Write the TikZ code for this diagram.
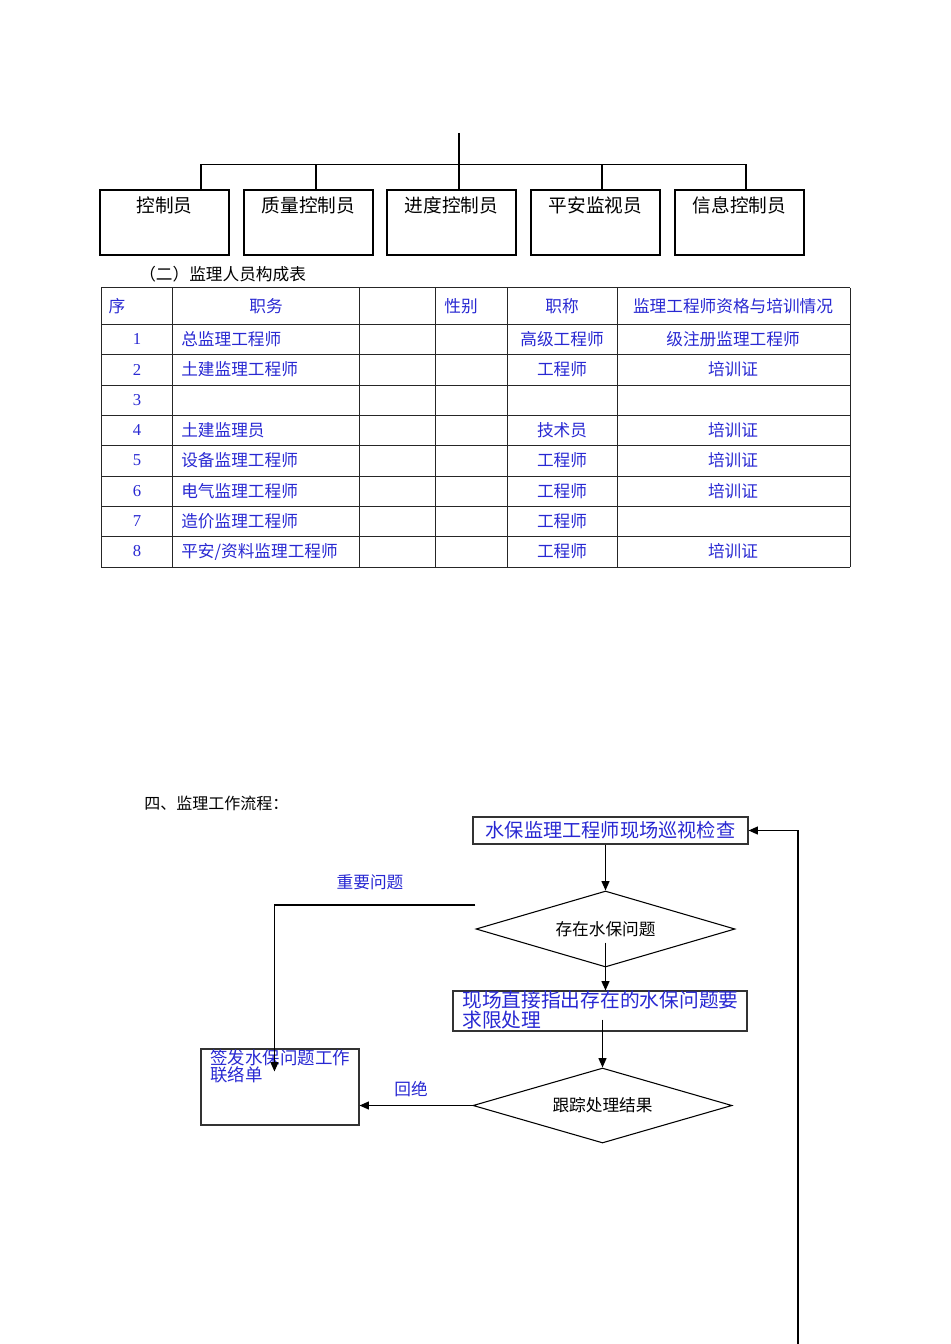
\documentclass[tikz,border=0pt]{standalone}
\usepackage{fontspec}
\setmainfont{Liberation Serif}
\newfontfamily\cjk{Noto Sans CJK SC}
\usetikzlibrary{shapes.geometric,calc,arrows.meta}
\definecolor{tblue}{RGB}{40,40,210}
\newcommand\myfs[1]{\fontsize{#1}{#1}\selectfont}
\begin{document}
\begin{tikzpicture}[x=0.75pt,y=-0.75pt,
  ln/.style={line width=0.8pt},
  tline/.style={line width=0.75pt,draw=black!85},
  arr/.style={line width=0.8pt,-{Triangle[length=7pt,width=6pt]}},
  obox/.style={draw,line width=1pt,minimum width=96.75pt,minimum height=48.75pt,inner sep=0pt},
  otext/.style={font=\cjk\myfs{14}},
  tb/.style={font=\cjk\myfs{12.5},text=tblue,inner sep=0pt},
  tn/.style={font=\myfs{12.5},text=tblue,inner sep=0pt},
  fbox/.style={draw=black!80,line width=0.8pt,inner sep=0pt},
  dia/.style={draw,diamond,aspect=3.4,inner sep=0pt,line width=0.8pt,font=\cjk\myfs{12.5}},
  lbl/.style={font=\cjk\myfs{12.5},text=tblue,inner sep=0pt}]
\useasboundingbox (0,0) rectangle (950,1344);

% ---------- organisation chart ----------
\foreach \n/\cx in {1/164.5,2/308.5,3/451.5,4/595.5,5/739.5}
  \node[obox] (o\n) at (\cx,222.5) {};
\node[otext] (t1) at ($(o1.north)+(0,16)$) {控制员};
\node[otext] (t2) at ($(o2.north)+(0,16)$) {质量控制员};
\node[otext] (t3) at ($(o3.north)+(0,16)$) {进度控制员};
\node[otext] (t4) at ($(o4.north)+(0,16)$) {平安监视员};
\node[otext] (t5) at ($(o5.north)+(0,16)$) {信息控制员};
\coordinate (top) at (459,133);
\draw[ln] (top) -- (top |- o3.north);
\draw[ln] ($(o1.north)+(36.5,0)$) -- ++(0,-25) -- ($(o5.north)+(6.5,-25)$) -- ($(o5.north)+(6.5,0)$);
\draw[ln] ($(o2.north)+(7.5,0)$) -- ++(0,-25);
\draw[ln] ($(o4.north)+(6.5,0)$) -- ++(0,-25);

% ---------- table ----------
\node[font=\cjk\myfs{12.5},anchor=west,inner sep=0pt] (ttl) at (139,274) {（二）监理人员构成表};
\foreach \x in {101,172,359,435,507,617,850} \draw[tline] (\x,288) -- (\x,567);
\foreach \y in {288,324,354,385,415,445,476,506,536,567} \draw[tline] (101,\y) -- (850,\y);
\node[tb] (h1) at (117,306) {序};
\node[tb] (h2) at (266,306) {职务};
\node[tb] (h3) at (461,306) {性别};
\node[tb] (h4) at (562,306) {职称};
\node[tb] (h5) at (733,306) {监理工程师资格与培训情况};
\foreach \i/\y/\job/\tit/\cert in {
  1/339/总监理工程师/高级工程师/级注册监理工程师,
  2/369.5/土建监理工程师/工程师/培训证,
  3/400/{}/{}/{},
  4/430/土建监理员/技术员/培训证,
  5/460.5/设备监理工程师/工程师/培训证,
  6/491/电气监理工程师/工程师/培训证,
  7/521/造价监理工程师/工程师/{},
  8/551.5/{平安/资料监理工程师}/工程师/培训证}{
  \node[tn] (num\i) at (137,\y) {\i};
  \node[tb,anchor=west] (job\i) at (181,\y) {\job};
  \node[tb] (tit\i) at (562,\y) {\tit};
  \node[tb] (cert\i) at (733,\y) {\cert};
}

% ---------- flow chart ----------
\node[font=\cjk\myfs{12},anchor=west,inner sep=0pt] (sec) at (144,803) {四、监理工作流程：};
\node[fbox,minimum width=206.25pt,minimum height=20.25pt,font=\cjk\myfs{14.4},text=tblue] (A) at (610.5,830.5) {水保监理工程师现场巡视检查};
\node[dia,minimum width=194.25pt,minimum height=57pt] (D1) at (605.5,929) {存在水保问题};
\node[fbox,minimum width=220.5pt,minimum height=30pt] (B) at (600,1011) {};
\node[anchor=north west,inner sep=0pt,align=left,font=\cjk\fontsize{14.8}{15}\selectfont,text=tblue] (Bt) at (462,991) {现场直接指出存在的水保问题要\\求限处理};
\node[dia,minimum width=194.25pt,minimum height=56.25pt] (D2) at (602.5,1105.5) {跟踪处理结果};
\node[fbox,minimum width=118.5pt,minimum height=57pt] (C) at (280,1087) {};
\node[anchor=north west,inner sep=0pt,align=left,font=\cjk\fontsize{13.1}{12}\selectfont,text=tblue] (Ct) at (210,1049) {签发水保问题工作\\联络单};
\node[lbl] (l1) at (370,882) {重要问题};
\node[lbl] (l2) at (411,1089) {回绝};

\draw[arr] (D1.north |- A.south) -- (D1.north);
\draw[arr] ($(D1.south)+(0,-25)$) -- (D1.south |- B.north);
\draw[arr] ($(D2.north |- B.south)+(0,-12)$) -- (D2.north);
\draw[arr] (D2.west) -- (D2.west -| C.east);
\coordinate (imp) at ($(C.north west)+(74,23)$);
\draw[arr] ($(D1.west)+(0,-24)$) -| (imp);
\coordinate (loopend) at (798,1344);
\draw[arr] (loopend) |- (A.east);
\end{tikzpicture}
\end{document}
